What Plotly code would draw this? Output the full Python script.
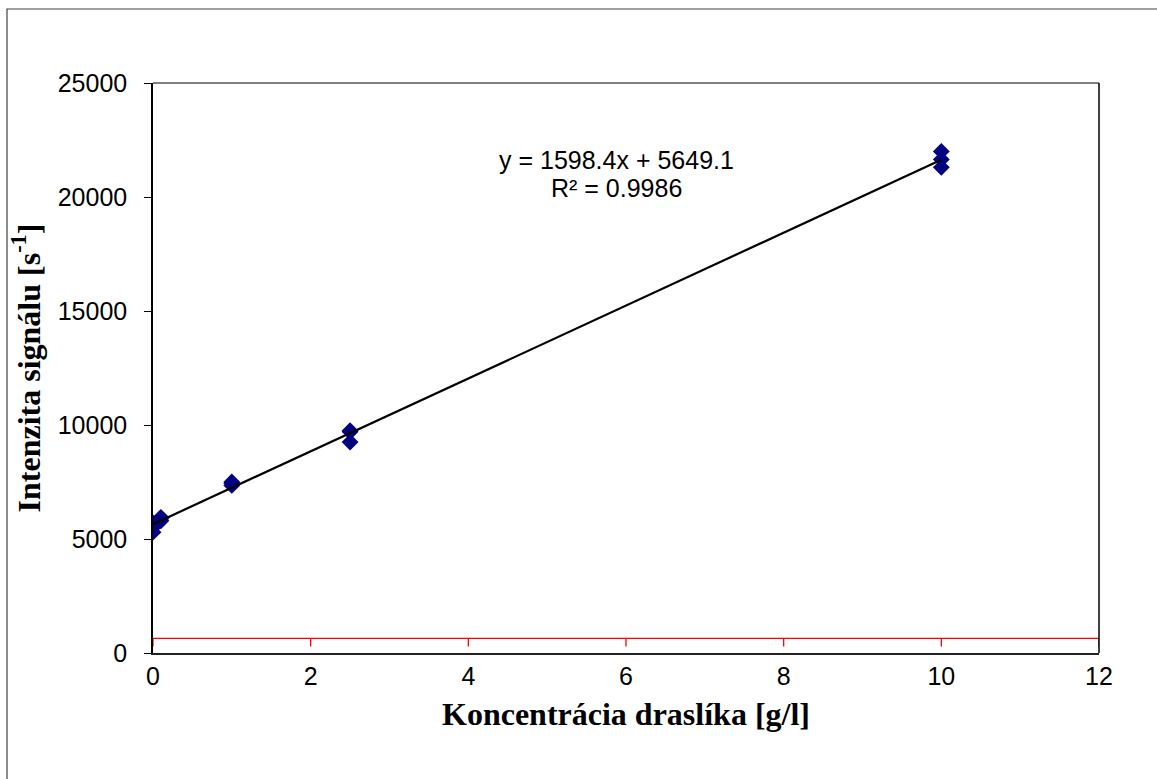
import plotly.graph_objects as go

# Calibration measurements: potassium concentration [g/l] and signal intensity [1/s]
conc = [0, 0, 0, 0.1, 0.1, 0.1, 1, 1, 1, 2.5, 2.5, 2.5, 10, 10, 10]
signal = [5300, 5500, 5700, 5800, 5900, 5950, 7350, 7450, 7500,
          9250, 9700, 9750, 21300, 21650, 22000]

# Linear fit coefficients shown on the chart
slope = 1598.4
intercept = 5649.1
r_squared = 0.9986
fit_x = [0, 10]

# Horizontal reference level (red line)
ref_level = 640
ref_x = [0, 12]

x_ticks = [0, 2, 4, 6, 8, 10, 12]
y_ticks = [0, 5000, 10000, 15000, 20000, 25000]

W, H = 1157, 779
L, R, T, B = 153, 58, 83, 126
pw, ph = W - L - R, H - T - B


def px_x(px):
    return (px - L) / pw


def px_y(py):
    return (H - B - py) / ph


fig = go.Figure()

fig.add_trace(go.Scatter(
    x=ref_x, y=[ref_level, ref_level], mode="lines",
    line=dict(color="#FF0000", width=1.3), hoverinfo="skip", showlegend=False))

fig.add_trace(go.Scatter(
    x=conc, y=signal, mode="markers",
    marker=dict(symbol="diamond", size=13, color="#000080",
                line=dict(width=0)),
    showlegend=False))

fig.add_trace(go.Scatter(
    x=fit_x, y=[slope * v + intercept for v in fit_x], mode="lines",
    line=dict(color="black", width=2.2), showlegend=False))

shapes = []
# short red tick marks hanging from the reference line
for xv in x_ticks:
    shapes.append(dict(type="line", xref="x", yref="y", ysizemode="pixel",
                       yanchor=ref_level, x0=xv, x1=xv, y0=0, y1=-8,
                       line=dict(color="#FF0000", width=1.3)))
# plot area top and right borders
shapes.append(dict(type="line", xref="paper", yref="paper", x0=0, x1=1, y0=1, y1=1,
                   line=dict(color="#808080", width=2)))
shapes.append(dict(type="line", xref="paper", yref="paper", x0=1, x1=1, y0=0, y1=1,
                   line=dict(color="black", width=1.5)))
# outer chart frame
shapes.append(dict(type="rect", xref="paper", yref="paper", x0=px_x(7), x1=1.3,
                   y0=-0.5, y1=px_y(9), line=dict(color="#404040", width=1.2),
                   fillcolor="rgba(0,0,0,0)"))

eq_font = dict(size=25, family="Liberation Sans, Arial, sans-serif", color="black")
annotations = [
    dict(x=px_x(616), y=px_y(160), xref="paper", yref="paper",
         text=f"y = {slope}x + {intercept}", showarrow=False,
         xanchor="center", yanchor="middle", font=eq_font),
    dict(x=px_x(616), y=px_y(188), xref="paper", yref="paper",
         text=f"R² = {r_squared}", showarrow=False,
         xanchor="center", yanchor="middle", font=eq_font),
]

fig.update_layout(
    width=W, height=H,
    margin=dict(l=L, r=R, t=T, b=B),
    paper_bgcolor="white", plot_bgcolor="white",
    font=dict(family="Liberation Sans, Arial, sans-serif", color="black"),
    shapes=shapes,
    annotations=annotations,
    xaxis=dict(
        range=[0, 12], tickvals=x_ticks, ticktext=[str(v) for v in x_ticks],
        showgrid=False, zeroline=False, showline=True, linecolor="#222", linewidth=1.5,
        ticks="", tickfont=dict(size=25),
        title=dict(text="Koncentrácia draslíka [g/l]", standoff=14,
                   font=dict(family="Liberation Serif, Times New Roman, serif",
                             size=32, weight="bold"))),
    yaxis=dict(
        range=[0, 25000], tickvals=y_ticks, ticktext=[str(v) for v in y_ticks],
        showgrid=False, zeroline=False, showline=True, linecolor="black", linewidth=1.5,
        ticks="outside", ticklen=7, tickcolor="black", tickwidth=1.2,
        ticklabelstandoff=12, tickfont=dict(size=25),
        title=dict(text="Intenzita signálu [s<sup>-1</sup>]", standoff=8,
                   font=dict(family="Liberation Serif, Times New Roman, serif",
                             size=32, weight="bold"))),
)

fig.write_html("out.html")
